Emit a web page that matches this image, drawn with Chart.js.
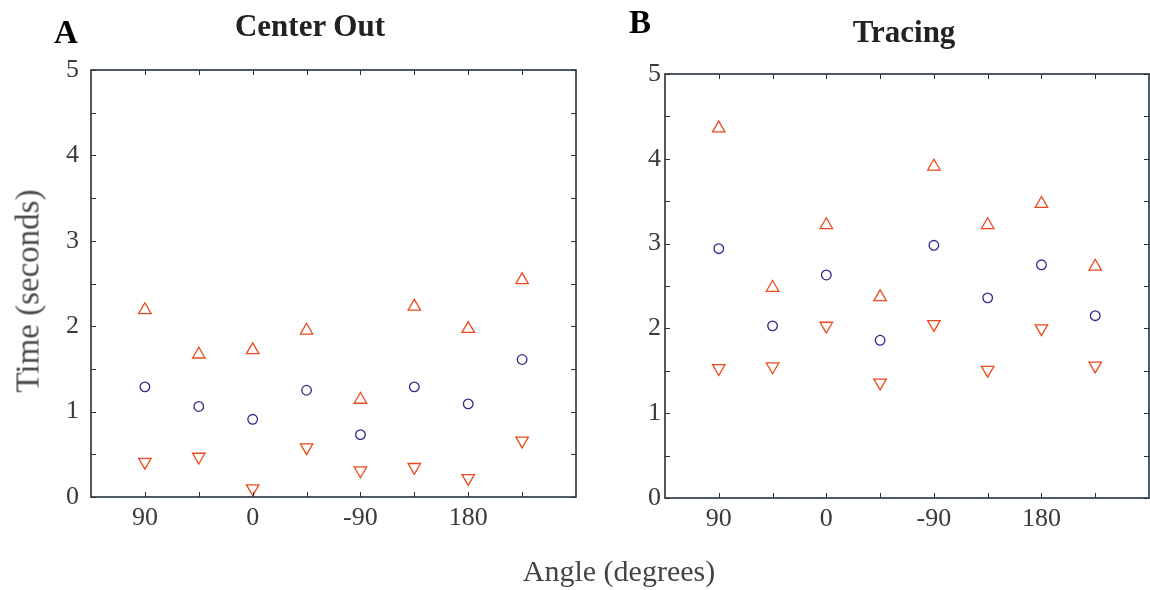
<!DOCTYPE html>
<html>
<head>
<meta charset="utf-8">
<script src="https://cdn.jsdelivr.net/npm/chart.js@4.4.1/dist/chart.umd.min.js"></script>
<style>
  body { margin: 0; background: #fff; }
  #lienzo { position: relative; width: 1150px; height: 590px; overflow: hidden; font-family: 'Liberation Serif', serif; }
  canvas { position: absolute; top: 0; }
  .texto { position: absolute; white-space: nowrap; line-height: 1; }
  .titulo { font-weight: bold; font-size: 31px; color: #222; }
  .letra { font-weight: bold; font-size: 33px; color: #000; }
  .eje { font-size: 30px; color: #444; }
  .ejeY { font-size: 33px; color: #4a4a4a; }
</style>
</head>
<body>
<div id="lienzo">
  <canvas id="graficoCentro" width="600" height="590" style="left:0px"></canvas>
  <canvas id="graficoTrazado" width="550" height="590" style="left:600px"></canvas>
  <div class="texto letra" style="left:54px; top:16px;">A</div>
  <div class="texto titulo" style="left:310px; top:10px; transform:translateX(-50%);">Center Out</div>
  <div class="texto letra" style="left:629px; top:6px;">B</div>
  <div class="texto titulo" style="left:904px; top:16px; transform:translateX(-50%);">Tracing</div>
  <div class="texto ejeY" style="left:28px; top:291px; transform:translate(-50%,-50%) rotate(-90deg);">Time (seconds)</div>
  <div class="texto eje" style="left:619px; top:556px; transform:translateX(-50%);">Angle (degrees)</div>
</div>
<script>
// posiciones de los ángulos en el eje x
const posiciones = [1, 2, 3, 4, 5, 6, 7, 8];
const etiquetasX = ['', '90', '', '0', '', '-90', '', '180', '', ''];
const etiquetasY = ['0', '1', '2', '3', '4', '5'];

// Center Out
const centroArriba = [2.19, 1.67, 1.72, 1.95, 1.14, 2.23, 1.97, 2.54];
const centroMedia = [1.29, 1.06, 0.91, 1.25, 0.73, 1.29, 1.09, 1.61];
const centroAbajo = [0.41, 0.47, 0.10, 0.58, 0.31, 0.35, 0.22, 0.66];

// Tracing
const trazoArriba = [4.36, 2.48, 3.22, 2.37, 3.91, 3.22, 3.47, 2.73];
const trazoMedia = [2.94, 2.03, 2.63, 1.86, 2.98, 2.36, 2.75, 2.15];
const trazoAbajo = [1.53, 1.55, 2.03, 1.36, 2.05, 1.51, 2.00, 1.56];

const NARANJA = '#ea4a1c';
const AZUL = '#2e2b88';
const COLOR_MARCO = '#27323c';

// dibuja el marco y las marcas hacia dentro en los cuatro lados
const marcoPlugin = {
    id: 'marco',
    afterDraw(chart) {
        const { ctx, chartArea: a, scales } = chart;
        ctx.save();
        ctx.strokeStyle = COLOR_MARCO;
        ctx.lineWidth = 1;
        scales.y.ticks.forEach(t => {
            const py = Math.round(scales.y.getPixelForValue(t.value)) + 0.5;
            ctx.beginPath();
            ctx.moveTo(a.left, py); ctx.lineTo(a.left + 5, py);
            ctx.moveTo(a.right, py); ctx.lineTo(a.right - 5, py);
            ctx.stroke();
        });
        posiciones.forEach(p => {
            const px = Math.round(scales.x.getPixelForValue(p)) + 0.5;
            ctx.beginPath();
            ctx.moveTo(px, a.bottom); ctx.lineTo(px, a.bottom - 5);
            ctx.moveTo(px, a.top); ctx.lineTo(px, a.top + 5);
            ctx.stroke();
        });
        ctx.lineWidth = 1.6;
        ctx.strokeRect(a.left, a.top, a.right - a.left, a.bottom - a.top);
        ctx.restore();
    }
};

function puntos(valores) {
    return valores.map((v, i) => ({ x: posiciones[i], y: v }));
}

function crearGrafica(id, arriba, media, abajo, caja) {
    const canvas = document.getElementById(id);
    if (!canvas) {
        console.error('No se encontró el canvas ' + id);
        return;
    }
    const fuente = { family: "'Liberation Serif', serif", size: 26 };
    return new Chart(canvas.getContext('2d'), {
        type: 'scatter',
        data: {
            datasets: [
                {
                    data: puntos(arriba),
                    pointStyle: 'triangle',
                    pointRadius: 7.2,
                    borderColor: NARANJA,
                    backgroundColor: 'rgba(0,0,0,0)',
                    borderWidth: 1.3
                },
                {
                    data: puntos(media),
                    pointStyle: 'circle',
                    pointRadius: 4.8,
                    borderColor: AZUL,
                    backgroundColor: 'rgba(0,0,0,0)',
                    borderWidth: 1.3
                },
                {
                    data: puntos(abajo),
                    pointStyle: 'triangle',
                    rotation: 180,
                    pointRadius: 7.2,
                    borderColor: NARANJA,
                    backgroundColor: 'rgba(0,0,0,0)',
                    borderWidth: 1.3
                }
            ]
        },
        options: {
            responsive: false,
            animation: false,
            events: [],
            layout: {
                autoPadding: false,
                padding: { left: 0, right: caja.derecha, top: caja.arriba, bottom: 0 }
            },
            plugins: {
                legend: { display: false },
                tooltip: { enabled: false },
                title: { display: false }
            },
            scales: {
                x: {
                    type: 'linear',
                    min: 0,
                    max: 9,
                    grid: { display: false, drawTicks: false },
                    border: { display: false },
                    afterFit: s => {
                        s.height = caja.altoX;
                        s.paddingLeft = 0;
                        s.paddingRight = 0;
                    },
                    ticks: {
                        stepSize: 1,
                        autoSkip: false,
                        maxRotation: 0,
                        padding: 6,
                        color: '#3a3a3a',
                        font: fuente,
                        callback: v => etiquetasX[v] || ''
                    }
                },
                y: {
                    min: 0,
                    max: 5,
                    grid: { display: false, drawTicks: false },
                    border: { display: false },
                    afterFit: s => {
                        s.width = caja.anchoY;
                        s.paddingTop = 0;
                        s.paddingBottom = 0;
                    },
                    ticks: {
                        stepSize: 0.5,
                        autoSkip: false,
                        padding: caja.padY,
                        color: '#3a3a3a',
                        font: fuente,
                        callback: v => Number.isInteger(v) ? etiquetasY[v] : ''
                    }
                }
            }
        },
        plugins: [marcoPlugin]
    });
}

document.addEventListener('DOMContentLoaded', function() {
    if (typeof Chart === 'undefined') {
        console.error('Chart.js no está cargado.');
        return;
    }
    crearGrafica('graficoCentro', centroArriba, centroMedia, centroAbajo,
        { derecha: 24, arriba: 70, altoX: 93, anchoY: 91, padY: 12 });
    crearGrafica('graficoTrazado', trazoArriba, trazoMedia, trazoAbajo,
        { derecha: 1, arriba: 74, altoX: 92, anchoY: 65, padY: 4 });
});
</script>
</body>
</html>
